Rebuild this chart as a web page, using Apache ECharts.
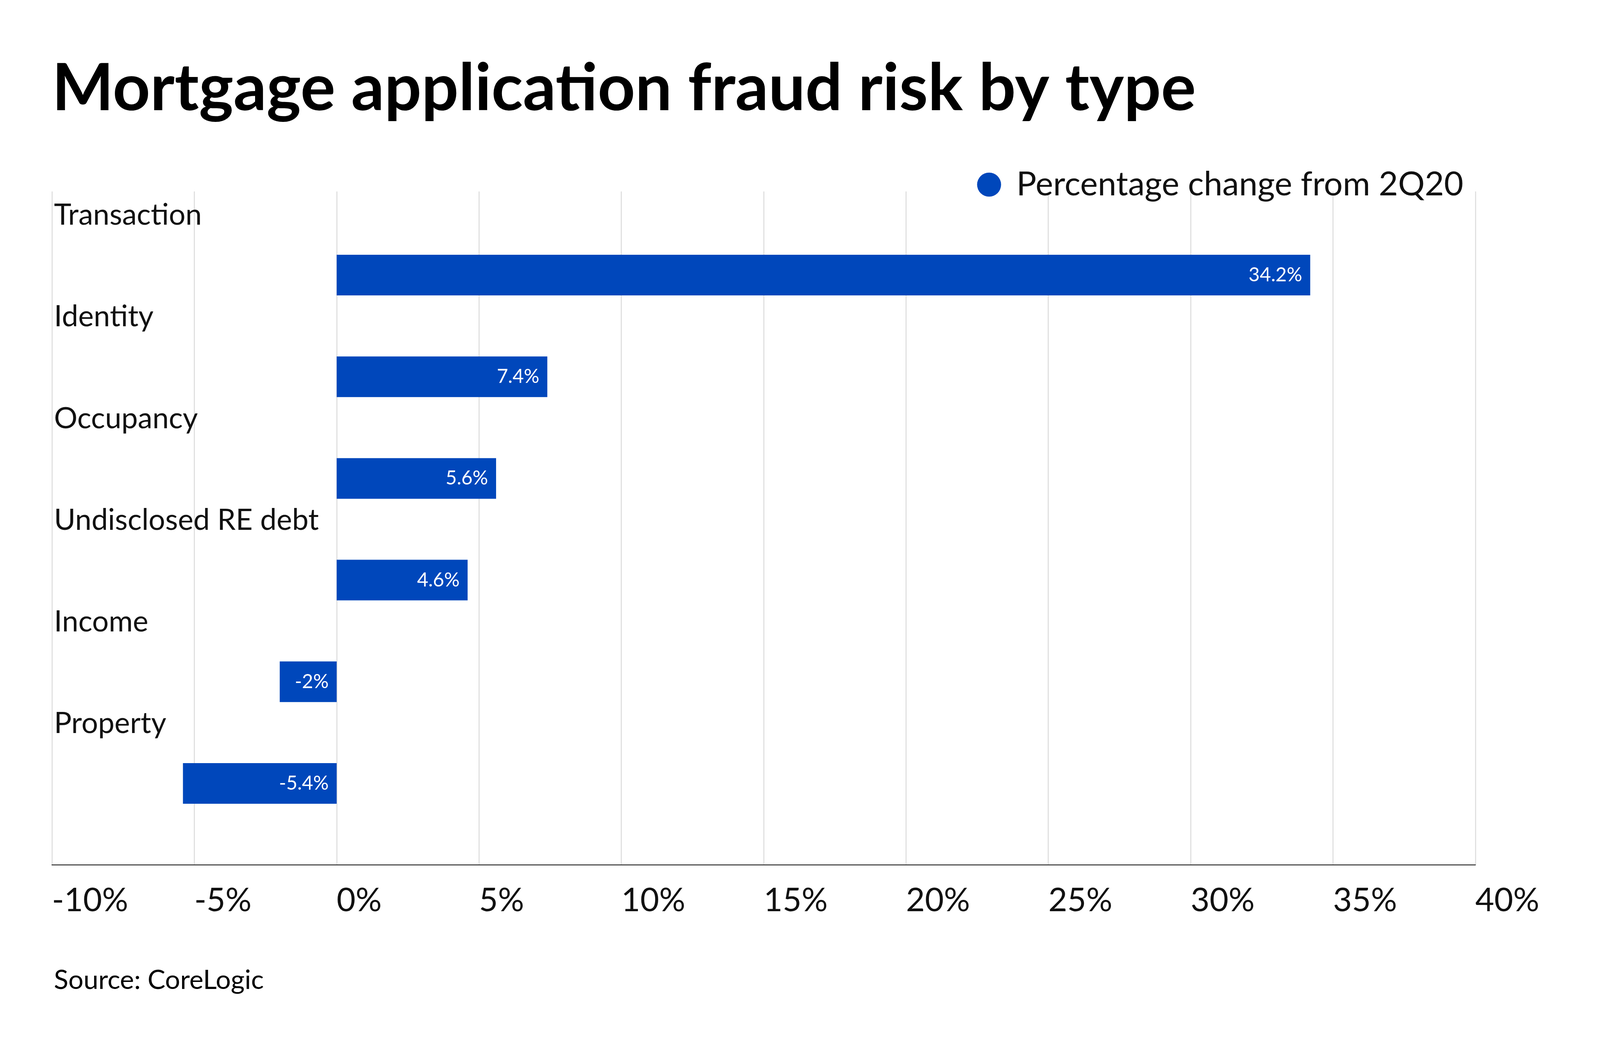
<!DOCTYPE html>
<html><head><meta charset="utf-8">
<script src="https://cdn.jsdelivr.net/npm/echarts@6/dist/echarts.min.js"></script>
<style>html,body{margin:0;padding:0;background:#fff;overflow:hidden;width:100%;height:100%}#c{width:100vw;height:100vh}</style>
</head><body><div id="c"></div>
<script>
const categories = ['Transaction','Identity','Occupancy','Undisclosed RE debt','Income','Property'];
const values = [34.2, 7.4, 5.6, 4.6, -2, -5.4];
const seriesName = 'Percentage change from 2Q20';
const xTicks = [-10,-5,0,5,10,15,20,25,30,35,40];
const FONT = 'Lato';
const el = document.getElementById('c');
const W = el.clientWidth || 4800, H = el.clientHeight || 2700;
const sx = W/4800, sy = H/2700, sf = Math.min(sx, sy);
const chart = echarts.init(el);
chart.setOption({
  backgroundColor:'#fff',
  textStyle:{fontFamily:FONT},
  title:[
    {text:'Mortgage application fraud risk by type',left:150*sx,top:140*sy,textStyle:{fontFamily:FONT,fontWeight:'bold',fontSize:196*sf,color:'#000'}},
    {text:'Source: CoreLogic',left:156*sx,top:2470*sy,textStyle:{fontFamily:FONT,fontWeight:'normal',fontSize:80*sf,color:'#000'}}
  ],
  legend:{data:[seriesName],right:404*sx,top:425*sy,icon:'circle',itemWidth:72*sf,itemHeight:72*sf,itemGap:20*sf,
    textStyle:{fontFamily:FONT,fontSize:100*sf,color:'#111',padding:[0,0,0,40*sf]}},
  grid:[
    {left:156*sx,right:374*sx,top:574*sy,bottom:565*sy},
    {left:156*sx,right:374*sx,top:490*sy,bottom:487*sy}
  ],
  xAxis:[
    {gridIndex:0,type:'value',min:-10,max:40,interval:5,show:false},
    {gridIndex:1,type:'value',min:xTicks[0],max:xTicks[xTicks.length-1],interval:5,
      axisLine:{show:true,lineStyle:{color:'#333',width:3*sf}},axisTick:{show:false},
      splitLine:{show:true,lineStyle:{color:'#dcdcdc',width:3*sf}},
      axisLabel:{formatter:v=>v+'%',align:'left',verticalAlign:'top',margin:50*sy,fontFamily:FONT,fontSize:98*sf,color:'#111',showMinLabel:true,showMaxLabel:true,hideOverlap:false}}
  ],
  yAxis:[
    {gridIndex:0,type:'category',data:categories,inverse:true,
      axisLine:{show:false},axisTick:{show:false},
      axisLabel:{interval:0,showMinLabel:true,showMaxLabel:true,hideOverlap:false,align:'left',margin:-6*sx,verticalAlign:'middle',
        formatter:v=>'{t|'+v+'}\n{g|}',
        rich:{t:{fontFamily:FONT,fontSize:88*sf,lineHeight:100*sy,color:'#111'},g:{height:306*sy,lineHeight:306*sy}}}},
    {gridIndex:1,type:'value',show:false}
  ],
  series:[{name:seriesName,type:'bar',xAxisIndex:0,yAxisIndex:0,data:values,barWidth:104*sy,
    itemStyle:{color:'#0047BB'},
    label:{show:true,position:'insideRight',formatter:p=>p.value+'%',color:'#fff',fontFamily:FONT,fontSize:58*sf,distance:24*sx}}]
});
</script></body></html>
